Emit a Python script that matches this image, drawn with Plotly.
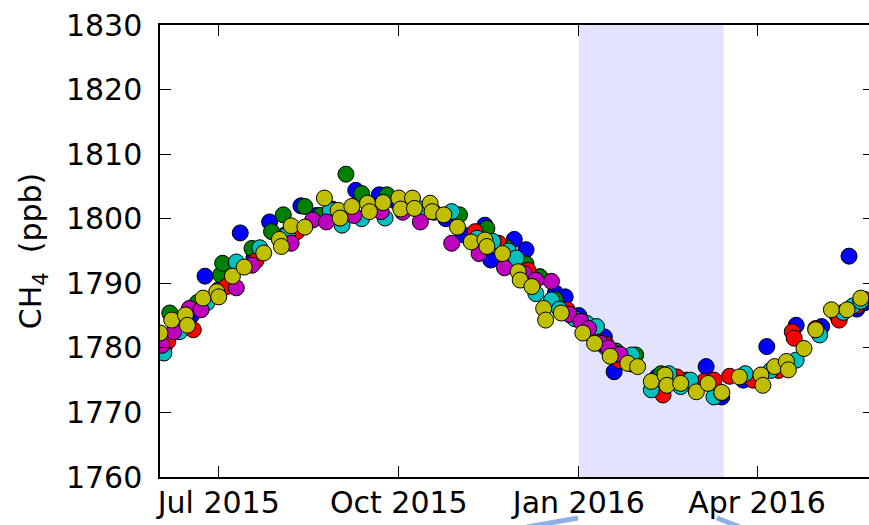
import plotly.graph_objects as go

# Daily-mean CH4 mixing ratios (ppb) from six sampling sites
dates_b = ["2015-06-03", "2015-06-10", "2015-06-17", "2015-06-24", "2015-07-01", "2015-07-12",
           "2015-07-19", "2015-07-27", "2015-08-04", "2015-08-12", "2015-08-20", "2015-08-28",
           "2015-09-09", "2015-09-21", "2015-09-29", "2015-10-06", "2015-10-15", "2015-10-25",
           "2015-11-03", "2015-11-14", "2015-11-17", "2015-11-29", "2015-12-03", "2015-12-05",
           "2015-12-12", "2015-12-20", "2015-12-25", "2016-01-01", "2016-01-06", "2016-01-14",
           "2016-01-19", "2016-01-24", "2016-01-28", "2016-02-10", "2016-02-20", "2016-03-01",
           "2016-03-06", "2016-03-14", "2016-03-25", "2016-04-06", "2016-04-21", "2016-05-04",
           "2016-05-12", "2016-05-18", "2016-05-22", "2016-05-26"]
ch4_b = [1780.0, 1783.5, 1785.0, 1791.1, 1789.0, 1797.8,
         1794.0, 1799.5, 1797.5, 1802.0, 1800.5, 1801.5,
         1804.4, 1803.7, 1802.8, 1802.0, 1801.0, 1800.0,
         1797.5, 1799.0, 1793.6, 1796.8, 1794.0, 1795.2,
         1791.0, 1788.5, 1787.9, 1785.0, 1783.0, 1781.7,
         1776.3, 1778.5, 1777.5, 1775.5, 1775.0, 1774.0,
         1777.1, 1772.4, 1775.0, 1780.2, 1783.5, 1783.3,
         1785.0, 1794.2, 1786.0, 1787.0]

dates_g = ["2015-06-06", "2015-06-13", "2015-06-20", "2015-07-02", "2015-07-03", "2015-07-18",
           "2015-07-28", "2015-08-03", "2015-08-14", "2015-08-22", "2015-09-04", "2015-09-12",
           "2015-09-25", "2015-10-05", "2015-10-19", "2015-11-01", "2015-11-15", "2015-11-25",
           "2015-12-05", "2015-12-12", "2015-12-20", "2015-12-28", "2016-01-11", "2016-01-20",
           "2016-01-30", "2016-02-12", "2016-02-25"]
ch4_g = [1785.4, 1784.0, 1787.0, 1791.3, 1793.1, 1795.4,
         1798.0, 1800.6, 1801.9, 1800.5, 1806.9, 1803.9,
         1803.7, 1802.5, 1801.0, 1800.6, 1798.5, 1795.5,
         1793.0, 1791.0, 1787.5, 1785.0, 1781.0, 1779.5,
         1778.9, 1776.0, 1775.0]

dates_r = ["2015-06-05", "2015-06-18", "2015-07-05", "2015-07-20", "2015-08-10", "2015-09-05",
           "2015-10-10", "2015-11-09", "2015-11-21", "2015-12-06", "2015-12-26", "2016-01-08",
           "2016-01-15", "2016-01-22", "2016-02-13", "2016-02-20", "2016-02-29", "2016-03-05",
           "2016-03-10", "2016-03-18", "2016-03-30", "2016-04-12", "2016-04-19", "2016-04-20",
           "2016-05-01", "2016-05-13", "2016-05-22", "2016-05-26"]
ch4_r = [1781.0, 1782.8, 1789.5, 1793.5, 1798.0, 1801.0,
         1801.5, 1798.0, 1796.2, 1792.0, 1785.9, 1782.0,
         1780.5, 1778.0, 1772.7, 1775.5, 1774.0, 1774.8,
         1775.0, 1775.6, 1775.0, 1776.5, 1782.5, 1781.5,
         1783.0, 1784.3, 1786.5, 1787.5]

dates_c = ["2015-06-03", "2015-06-11", "2015-06-25", "2015-07-10", "2015-07-22", "2015-08-05",
           "2015-08-27", "2015-09-02", "2015-09-12", "2015-09-24", "2015-10-12", "2015-10-28",
           "2015-11-10", "2015-11-18", "2015-11-26", "2015-11-30", "2015-12-05", "2015-12-10",
           "2015-12-18", "2015-12-22", "2015-12-30", "2016-01-05", "2016-01-10", "2016-01-15",
           "2016-01-20", "2016-01-28", "2016-02-07", "2016-02-16", "2016-02-22", "2016-02-27",
           "2016-03-10", "2016-03-14", "2016-03-26", "2016-04-08", "2016-04-21", "2016-05-03",
           "2016-05-15", "2016-05-20", "2016-05-24"]
ch4_c = [1779.2, 1782.5, 1787.0, 1793.3, 1795.5, 1797.5,
         1801.3, 1799.0, 1800.0, 1800.1, 1801.5, 1801.1,
         1797.0, 1796.5, 1795.0, 1793.9, 1791.0, 1788.4,
         1787.4, 1786.0, 1784.5, 1783.8, 1783.3, 1780.0,
         1779.0, 1778.9, 1773.5, 1776.0, 1774.0, 1775.0,
         1772.4, 1773.0, 1776.0, 1776.5, 1778.1, 1782.0,
         1785.5, 1786.5, 1787.2]

dates_m = ["2015-06-02", "2015-06-08", "2015-06-16", "2015-06-22", "2015-07-10", "2015-07-18",
           "2015-08-07", "2015-08-18", "2015-08-25", "2015-09-08", "2015-09-22", "2015-10-03",
           "2015-10-12", "2015-10-28", "2015-11-11", "2015-11-24", "2015-12-04", "2015-12-10",
           "2015-12-18", "2015-12-27", "2016-01-02", "2016-01-06", "2016-01-12", "2016-01-16",
           "2016-01-22"]
ch4_m = [1780.4, 1782.5, 1786.1, 1785.9, 1789.3, 1792.8,
         1796.2, 1799.8, 1799.5, 1800.5, 1801.1, 1801.0,
         1799.5, 1796.2, 1794.6, 1792.4, 1791.5, 1790.5,
         1790.3, 1785.2, 1784.1, 1783.0, 1780.7, 1780.0,
         1779.0]

dates_y = ["2015-06-01", "2015-06-07", "2015-06-14", "2015-06-15", "2015-06-23", "2015-06-30",
           "2015-07-01", "2015-07-08", "2015-07-14", "2015-07-24", "2015-08-01", "2015-08-02",
           "2015-08-07", "2015-08-14", "2015-08-24", "2015-08-31", "2015-09-01", "2015-09-07",
           "2015-09-15", "2015-09-16", "2015-09-23", "2015-10-01", "2015-10-02", "2015-10-08",
           "2015-10-09", "2015-10-17", "2015-10-18", "2015-10-24", "2015-10-31", "2015-11-07",
           "2015-11-14", "2015-11-15", "2015-11-23", "2015-12-01", "2015-12-02", "2015-12-08",
           "2015-12-14", "2015-12-15", "2015-12-23", "2016-01-03", "2016-01-09", "2016-01-17",
           "2016-01-26", "2016-01-31", "2016-02-07", "2016-02-14", "2016-02-15", "2016-02-22",
           "2016-03-01", "2016-03-07", "2016-03-14", "2016-03-23", "2016-04-03", "2016-04-04",
           "2016-04-10", "2016-04-16", "2016-04-17", "2016-04-25", "2016-05-01", "2016-05-09",
           "2016-05-17", "2016-05-24"]
ch4_y = [1782.3, 1784.3, 1785.1, 1783.5, 1787.7, 1788.7,
         1787.9, 1791.1, 1792.5, 1794.7, 1796.8, 1795.7,
         1798.9, 1798.7, 1803.2, 1801.3, 1800.1, 1801.9,
         1802.4, 1801.1, 1802.5, 1803.2, 1801.5, 1803.2,
         1801.6, 1802.4, 1801.1, 1800.6, 1798.7, 1796.4,
         1796.7, 1795.7, 1794.6, 1791.8, 1790.5, 1789.5,
         1786.1, 1784.3, 1785.4, 1782.3, 1780.7, 1778.7,
         1777.6, 1777.1, 1774.8, 1775.8, 1774.2, 1774.5,
         1773.2, 1774.5, 1773.1, 1775.5, 1775.8, 1774.2,
         1777.1, 1777.9, 1776.6, 1779.9, 1782.8, 1785.9,
         1785.9, 1787.7]

series = [
    (dates_b, ch4_b, "#0000ff"),
    (dates_g, ch4_g, "#008000"),
    (dates_r, ch4_r, "#ff0000"),
    (dates_c, ch4_c, "#00bfbf"),
    (dates_m, ch4_m, "#bf00bf"),
    (dates_y, ch4_y, "#bfbf00"),
]

x_ticks = ["2015-07-01", "2015-10-01", "2016-01-01", "2016-04-01"]
x_tick_text = ["Jul 2015", "Oct 2015", "Jan 2016", "Apr 2016"]
y_ticks = [1760, 1770, 1780, 1790, 1800, 1810, 1820, 1830]
x_range = ["2015-06-01", "2016-05-28 05:00"]
y_range = [1760, 1830]
highlight = ["2016-01-01", "2016-03-15"]

FONT = "DejaVu Sans"

fig = go.Figure()
for d, v, col in series:
    fig.add_trace(go.Scatter(
        x=d, y=v, mode="markers",
        marker=dict(size=16, color=col, line=dict(color="black", width=1)),
        showlegend=False, hoverinfo="skip",
    ))

# helper trace so the right-hand tick axis is drawn
fig.add_trace(go.Scatter(x=[], y=[], yaxis="y2", showlegend=False))

# highlighted period
fig.add_shape(type="rect", xref="x", yref="paper",
              x0=highlight[0], x1=highlight[1], y0=0, y1=1,
              fillcolor="rgb(227,227,253)", line=dict(width=0), layer="below")

# connector lines running down to the panel below
conn = "#8fb0e4"
fig.add_shape(type="line", xref="paper", yref="paper",
              x0=0.5176, y0=-0.1106, x1=0.5896, y1=-0.0907,
              line=dict(color=conn, width=5))
fig.add_shape(type="line", xref="paper", yref="paper",
              x0=0.7856, y0=-0.0907, x1=0.818, y1=-0.1106,
              line=dict(color=conn, width=5))

fig.update_layout(
    width=869, height=525,
    margin=dict(l=160, r=0, t=25, b=48),
    paper_bgcolor="white", plot_bgcolor="white",
    font=dict(family=FONT, size=30, color="black"),
    xaxis=dict(
        type="date", range=x_range,
        tickvals=x_ticks, ticktext=x_tick_text,
        ticks="inside", ticklen=11, tickwidth=1.2, tickcolor="black",
        showline=True, linecolor="black", linewidth=1.5, mirror="ticks",
        showgrid=False, zeroline=False,
        tickfont=dict(family=FONT, size=30),
        ticklabelstandoff=-2,
    ),
    yaxis=dict(
        range=y_range, tickvals=y_ticks,
        ticks="inside", ticklen=11, tickwidth=1.2, tickcolor="black",
        showline=True, linecolor="black", linewidth=1.5, mirror=False,
        showgrid=False, zeroline=False,
        tickfont=dict(family=FONT, size=30),
        ticklabelstandoff=10,
        title=dict(text="CH<sub>4</sub>&nbsp; (ppb)", font=dict(family=FONT, size=30), standoff=15),
    ),
    yaxis2=dict(
        range=y_range, tickvals=y_ticks, overlaying="y", side="right",
        ticks="inside", ticklen=6, tickwidth=1.2, tickcolor="black",
        showticklabels=False, showline=False, showgrid=False, zeroline=False,
    ),
)

fig.write_html("out.html")
